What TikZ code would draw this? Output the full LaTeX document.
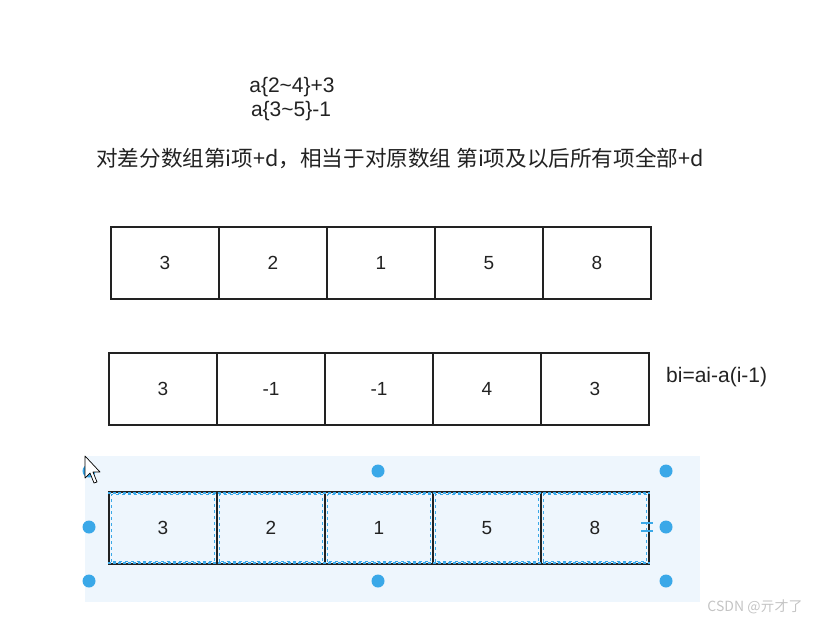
\documentclass[tikz,border=0pt]{standalone}
\usepackage{fontspec}
\setmainfont{Liberation Sans}
\newfontfamily\cjk{Noto Sans CJK SC}
\definecolor{InkDark}{HTML}{222222}
\definecolor{SelBlue}{HTML}{3AA8E8}
\definecolor{SelBack}{HTML}{EEF6FD}
\definecolor{MarkGray}{HTML}{C4C4C4}
\usetikzlibrary{positioning}

\begin{document}
\begin{tikzpicture}[x=1pt, y=-1pt,
  cell/.style={draw=InkDark, line width=1.2pt, minimum width=108pt,
    minimum height=72pt, inner sep=0pt, text=InkDark,
    font=\fontsize{19}{20}\selectfont},
  note/.style={text=InkDark, inner sep=0pt, font=\fontsize{21}{23}\selectfont},
  handle/.style={fill=SelBlue}]
  \useasboundingbox (0,0) rectangle (816,623);

  % Update notes
  \node[note] (opa) at (292,87) {a\{2\textasciitilde4\}+3};
  \node[note] (opb) at (291,111) {a\{3\textasciitilde5\}-1};
  \node[note, font=\cjk\fontsize{21.6}{23}\selectfont] (rule) at (400,158)
    {对差分数组第i项+d，相当于对原数组 第i项及以后所有项全部+d};

  % Original array
  \foreach \v [count=\i from 0] in {3,2,1,5,8} {
    \node[cell] (a\i) at ({165+108*\i},263) {\v};
  }
  % Difference array
  \foreach \v [count=\i from 0] in {3,-1,-1,4,3} {
    \node[cell] (b\i) at ({163+108*\i},389) {\v};
  }
  \node[note, anchor=west] (bdef) at (666,377) {bi=ai-a(i-1)};

  % Selected copy
  \fill[SelBack] (85,456) rectangle (700,602);
  \foreach \v [count=\i from 0] in {3,2,1,5,8} {
    \node[cell] (c\i) at ({163+108*\i},528) {\v};
    \draw[SelBlue, dashed, line width=1pt]
      ([shift={(3pt,3pt)}]c\i.south west) rectangle ([shift={(-3pt,-3pt)}]c\i.north east);
  }
  \draw[SelBlue, dash pattern=on 3pt off 2pt, line width=1.4pt]
    ([yshift=-1.5pt]c0.north west) -- ([yshift=-1.5pt]c4.north east)
    ([yshift=1.5pt]c0.south west) -- ([yshift=1.5pt]c4.south east);
  \foreach \p in {(89,471),(378,471),(666,471),(89,527),(666,527),(89,581),(378,581),(666,581)}
    \fill[handle] \p circle (6.5pt);
  \draw[SelBlue, line width=2pt] (641,523) -- (653,523) (641,531) -- (653,531);

  % Mouse pointer
  \draw[black, fill=white, line width=0.7pt, line join=round]
    (85,456) -- (85,478) -- (90,473) -- (94,483) -- (97,482) -- (93,472) -- (100,472) -- cycle;

  \node[text=MarkGray, font=\cjk\fontsize{14}{15}\selectfont] (mark) at (755,607) {CSDN @亓才了};
\end{tikzpicture}
\end{document}
